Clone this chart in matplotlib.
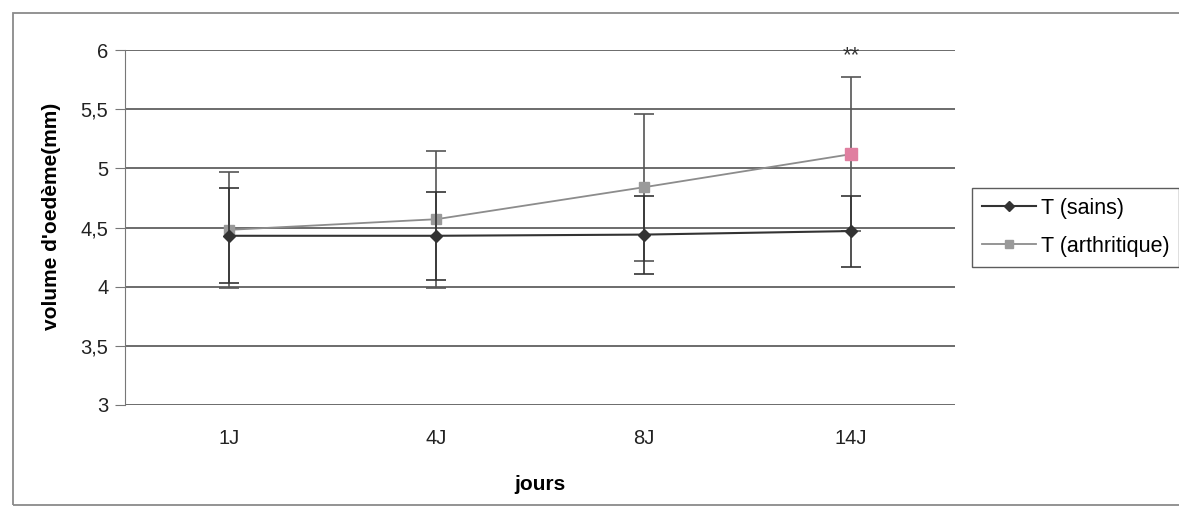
import matplotlib
matplotlib.use("Agg")
import matplotlib.pyplot as plt
from matplotlib.patches import Rectangle
from matplotlib.lines import Line2D

categories = ["1J", "4J", "8J", "14J"]
sains = [4.43, 4.43, 4.44, 4.47]
sains_err = [0.40, 0.37, 0.33, 0.30]
arth = [4.48, 4.57, 4.84, 5.12]
arth_err = [0.49, 0.58, 0.62, 0.65]
yticks = [3, 3.5, 4, 4.5, 5, 5.5, 6]
ytick_labels = ["3", "3,5", "4", "4,5", "5", "5,5", "6"]
series_names = ["T (sains)", "T (arthritique)"]

plt.rcParams['font.family'] = ['Liberation Sans', 'DejaVu Sans']

W, H = 1179, 516
fig = plt.figure(figsize=(W / 100, H / 100), dpi=100)
fig.patches.append(Rectangle((13 / W, 1 - 505 / H), (1190 - 13) / W, (505 - 13) / H,
                             transform=fig.transFigure, fill=False,
                             edgecolor='#8a8a8a', lw=1.3, clip_on=False))
ax = fig.add_axes([125 / W, 1 - 405 / H, 830 / W, 355 / H])
x = list(range(1, len(categories) + 1))

ax.errorbar(x, arth, yerr=arth_err, color='#8c8c8c', lw=1.3, marker='s', ms=7,
            mfc='#9a9a9a', mec='#9a9a9a', ecolor='#555555', elinewidth=1.2,
            capsize=7, capthick=1.2, zorder=3)
ax.plot([x[-1]], [arth[-1]], marker='s', ms=8, color='#e07fa0', ls='none', zorder=4)
ax.errorbar(x, sains, yerr=sains_err, color='#333333', lw=1.5, marker='D', ms=6,
            mfc='#333333', mec='#333333', ecolor='#333333', elinewidth=1.2,
            capsize=7, capthick=1.2, zorder=5)
ax.text(x[-1], 5.95, "**", ha='center', va='center', fontsize=16, color='#333333')

ax.set_xlim(0.5, 4.5)
ax.set_ylim(3, 6)
ax.set_xticks(x)
ax.set_xticklabels(categories, fontsize=14.5, color='#222222')
ax.set_yticks(yticks)
ax.set_yticklabels(ytick_labels, fontsize=14.5, color='#222222')
ax.yaxis.grid(True, color='#444444', lw=1.1)
ax.set_axisbelow(True)
for s in ['top', 'right', 'bottom']:
    ax.spines[s].set_visible(False)
ax.spines['left'].set_color('#777777')
ax.tick_params(axis='x', length=0, pad=17)
ax.tick_params(axis='y', length=7, color='#777777', pad=5)
ax.set_xlabel("jours", fontsize=15, fontweight='bold')
ax.xaxis.label.set_va('center')
ax.xaxis.set_label_coords(0.5, (405 - 484) / 355)
ax.set_ylabel("volume d'oedème(mm)", fontsize=15, fontweight='bold')
ax.yaxis.label.set_va('center')
ax.yaxis.set_label_coords((52 - 125) / 830, (405 - 216) / 355)

handles = [
    Line2D([], [], color='#333333', lw=1.5, marker='D', ms=5, mfc='#333333', mec='#333333'),
    Line2D([], [], color='#8c8c8c', lw=1.3, marker='s', ms=6, mfc='#9a9a9a', mec='#9a9a9a'),
]
leg = fig.legend(handles, series_names, loc='upper left',
                 bbox_to_anchor=(972 / W, 1 - 188 / H),
                 fontsize=15.5, frameon=True, fancybox=False, edgecolor='#333333',
                 handlelength=2.5, borderpad=0.45, labelspacing=0.8, handletextpad=0.25,
                 borderaxespad=0)
leg.get_frame().set_linewidth(1.0)

fig.savefig("out.png", dpi=100)
